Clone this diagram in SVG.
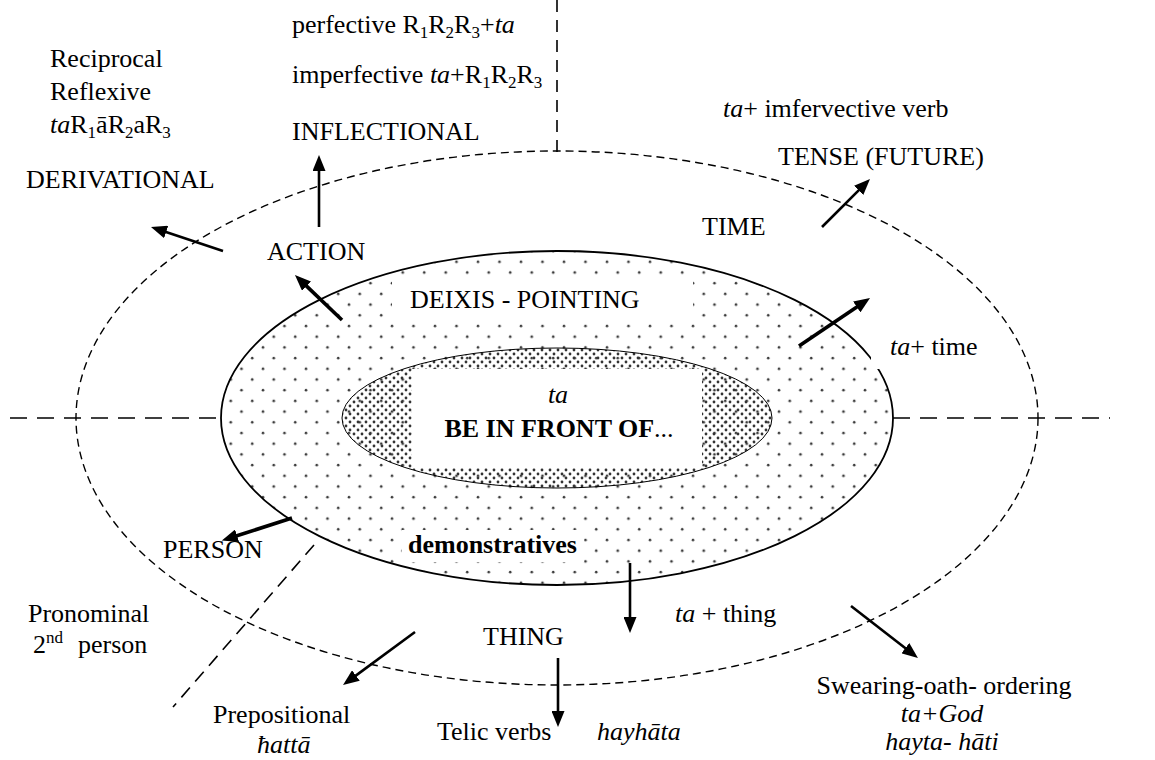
<svg xmlns="http://www.w3.org/2000/svg" width="1155" height="760" viewBox="0 0 1155 760">
<defs>
<style>
.t{font-family:"Liberation Serif","Times New Roman",serif;font-size:26px;fill:#000}
.i{font-style:italic}
.b{font-weight:bold}
.s{font-size:17px}
.ax{stroke:#000;stroke-width:1.6;fill:none}
.arr{stroke:#000;stroke-width:2.6;fill:none;marker-end:url(#ah)}
.thick{stroke-width:3.6}
.wb{fill:#fff;stroke:none}
</style>
<pattern id="sparse" patternUnits="userSpaceOnUse" width="21.5" height="21.4"><circle cx="5" cy="5" r="1.3" fill="#3a3a3a"/><circle cx="15.75" cy="15.7" r="1.3" fill="#3a3a3a"/></pattern>
<pattern id="dense" patternUnits="userSpaceOnUse" width="8" height="8"><circle cx="2" cy="2" r="1.4" fill="#333"/><circle cx="6" cy="6" r="1.4" fill="#333"/></pattern>
<marker id="ah" markerUnits="userSpaceOnUse" markerWidth="16" markerHeight="13" refX="1" refY="6.5" orient="auto"><path d="M0,0 L16,6.5 L0,13 z" fill="#000"/></marker>
</defs>
<rect width="1155" height="760" fill="#fff"/>

<g id="outer-ring">
<ellipse cx="557" cy="418" rx="481" ry="267" fill="none" stroke="#000" stroke-width="1.4" stroke-dasharray="8 5"/>
</g>

<g id="axes">
<line class="ax" x1="557" y1="0" x2="557" y2="152" stroke-dasharray="12 8"/>
<line class="ax" x1="10" y1="418" x2="222" y2="418" stroke-dasharray="17 10"/>
<line class="ax" x1="893" y1="418" x2="1110" y2="418" stroke-dasharray="17 10"/>
<line class="ax" x1="314" y1="545" x2="173" y2="707" stroke-dasharray="13 8"/>
</g>

<g id="deixis-ring">
<ellipse cx="557" cy="418" rx="336" ry="167" fill="url(#sparse)" stroke="#000" stroke-width="1.8"/>
<rect class="wb" x="392" y="278" width="301" height="45"/>
<rect class="wb" x="402" y="530" width="182" height="32"/>
<rect class="wb" x="871" y="335" width="112" height="34"/>
<text class="t" x="410" y="308">DEIXIS - POINTING</text>
<text class="t b" x="408" y="553">demonstratives</text>
</g>

<g id="core">
<ellipse cx="557" cy="418" rx="215" ry="70" fill="url(#dense)" stroke="#000" stroke-width="1"/>
<rect class="wb" x="412" y="369" width="290" height="99"/>
<text class="t i" x="558" y="403" text-anchor="middle">ta</text>
<text class="t b" x="559" y="437" text-anchor="middle">BE IN FRONT OF<tspan font-weight="normal">...</tspan></text>
</g>

<g id="connectors">
<line class="arr" x1="319" y1="227" x2="319" y2="170"/>
<line class="arr" x1="223" y1="251" x2="165.2" y2="231.7"/>
<line class="arr thick" x1="342" y1="320" x2="305.8" y2="285.4"/>
<line class="arr" x1="822" y1="227" x2="859.4" y2="189.6"/>
<line class="arr thick" x1="799" y1="346" x2="857.6" y2="306.4"/>
<line class="arr thick" x1="292" y1="518" x2="236.1" y2="536"/>
<line class="arr" x1="630" y1="563" x2="630" y2="618"/>
<line class="arr" x1="558" y1="658" x2="558" y2="712"/>
<line class="arr" x1="415" y1="632" x2="355.1" y2="676.1"/>
<line class="arr" x1="851" y1="606" x2="906.1" y2="648.8"/>
</g>

<g id="derivational">
<text class="t" x="50" y="67">Reciprocal</text>
<text class="t" x="50" y="100">Reflexive</text>
<text class="t" x="50" y="133"><tspan class="i">ta</tspan>R<tspan class="s" dy="5">1</tspan><tspan dy="-5">ā</tspan>R<tspan class="s" dy="5">2</tspan><tspan dy="-5">a</tspan>R<tspan class="s" dy="5">3</tspan></text>
<text class="t" x="26" y="188">DERIVATIONAL</text>
</g>

<g id="inflectional">
<text class="t" x="292" y="33">perfective R<tspan class="s" dy="5">1</tspan><tspan dy="-5">R</tspan><tspan class="s" dy="5">2</tspan><tspan dy="-5">R</tspan><tspan class="s" dy="5">3</tspan><tspan dy="-5">+</tspan><tspan class="i">ta</tspan></text>
<text class="t" x="292" y="83">imperfective <tspan class="i">ta</tspan>+R<tspan class="s" dy="5">1</tspan><tspan dy="-5">R</tspan><tspan class="s" dy="5">2</tspan><tspan dy="-5">R</tspan><tspan class="s" dy="5">3</tspan></text>
<text class="t" x="292" y="140">INFLECTIONAL</text>
</g>

<g id="tense">
<text class="t" x="723" y="117"><tspan class="i">ta</tspan>+ imfervective verb</text>
<text class="t" x="778" y="165">TENSE (FUTURE)</text>
</g>

<g id="time">
<text class="t" x="702" y="235">TIME</text>
<text class="t" x="890" y="355"><tspan class="i">ta</tspan>+ time</text>
</g>

<g id="action">
<text class="t" x="267" y="260">ACTION</text>
</g>

<g id="person">
<text class="t" x="163" y="558">PERSON</text>
</g>

<g id="pronominal">
<text class="t" x="28" y="622">Pronominal</text>
<text class="t" x="33" y="653">2<tspan class="s" dy="-10">nd</tspan><tspan x="78" dy="10">person</tspan></text>
</g>

<g id="thing">
<text class="t" x="675" y="622"><tspan class="i">ta</tspan> + thing</text>
<text class="t" x="483" y="645">THING</text>
</g>

<g id="prepositional">
<text class="t" x="213" y="723">Prepositional</text>
<text class="t i" x="257" y="753">ħattā</text>
</g>

<g id="telic">
<text class="t" x="437" y="740">Telic verbs</text>
<text class="t i" x="597" y="740">hayhāta</text>
</g>

<g id="swearing">
<text class="t" x="944" y="694" text-anchor="middle">Swearing-oath- ordering</text>
<text class="t i" x="942" y="722" text-anchor="middle">ta+God</text>
<text class="t i" x="942" y="750" text-anchor="middle">hayta-  hāti</text>
</g>
</svg>
